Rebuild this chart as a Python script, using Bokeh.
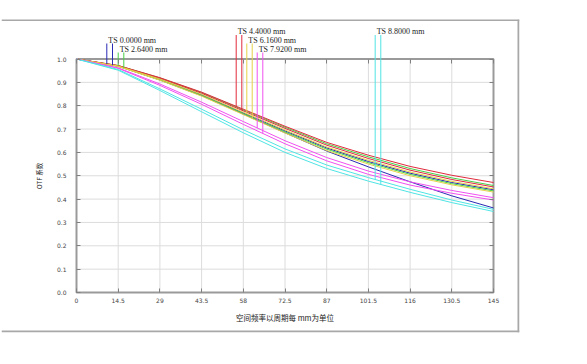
import numpy as np
from bokeh.plotting import figure
from bokeh.models import FixedTicker, LinearAxis, Span, Range1d
from bokeh.core.properties import value
from bokeh.embed import file_html
from bokeh.resources import INLINE

# ---------------- data ----------------
freq = [0, 14.5, 29, 43.5, 58, 72.5, 87, 101.5, 116, 130.5, 145]
x_ticks = [0, 14.5, 29, 43.5, 58, 72.5, 87, 101.5, 116, 130.5, 145]
x_tick_labels = ["0", "14.5", "29", "43.5", "58", "72.5", "87", "101.5", "116", "130.5", "145"]
y_ticks = [0.0, 0.1, 0.2, 0.3, 0.4, 0.5, 0.6, 0.7, 0.8, 0.9, 1.0]
y_tick_labels = ["0.0", "0.1", "0.2", "0.3", "0.4", "0.5", "0.6", "0.7", "0.8", "0.9", "1.0"]

field_names = ["TS 0.0000 mm", "TS 2.6400 mm", "TS 4.4000 mm", "TS 6.1600 mm", "TS 7.9200 mm", "TS 8.8000 mm"]
field_colors = ["#2a2ab4", "#48d048", "#e02a3c", "#e6d24a", "#f050f0", "#50e4e4"]

blue_t    = [1, 0.970, 0.913, 0.847, 0.769, 0.692, 0.619, 0.561, 0.511, 0.471, 0.440]
blue_s    = [1, 0.969, 0.910, 0.843, 0.764, 0.684, 0.606, 0.538, 0.474, 0.414, 0.362]
green_t   = [1, 0.972, 0.919, 0.856, 0.782, 0.708, 0.637, 0.581, 0.531, 0.491, 0.458]
green_s   = [1, 0.969, 0.911, 0.844, 0.766, 0.688, 0.614, 0.556, 0.506, 0.466, 0.435]
red_t     = [1, 0.972, 0.920, 0.858, 0.785, 0.712, 0.643, 0.588, 0.540, 0.502, 0.471]
red_s     = [1, 0.971, 0.917, 0.853, 0.778, 0.703, 0.631, 0.574, 0.524, 0.484, 0.452]
yellow_t  = [1, 0.970, 0.914, 0.849, 0.772, 0.696, 0.623, 0.566, 0.516, 0.476, 0.444]
yellow_s  = [1, 0.968, 0.909, 0.841, 0.762, 0.683, 0.608, 0.550, 0.500, 0.461, 0.430]
magenta_t = [1, 0.962, 0.893, 0.815, 0.732, 0.650, 0.578, 0.520, 0.474, 0.437, 0.406]
magenta_s = [1, 0.960, 0.887, 0.806, 0.720, 0.637, 0.564, 0.506, 0.460, 0.425, 0.396]
cyan_t    = [1, 0.955, 0.872, 0.785, 0.697, 0.615, 0.546, 0.492, 0.442, 0.396, 0.356]
cyan_s    = [1, 0.952, 0.865, 0.774, 0.684, 0.600, 0.531, 0.477, 0.429, 0.385, 0.347]

curves_t = [blue_t, green_t, red_t, yellow_t, magenta_t, cyan_t]
curves_s = [blue_s, green_s, red_s, yellow_s, magenta_s, cyan_s]

# legend marker frequencies (T line; S line sits just right of it) and text rows
legend_t_x = [10.54, 14.50, 55.53, 59.22, 62.83, 103.86]
legend_s_x = [12.52, 16.45, 57.48, 61.10, 64.78, 105.81]
legend_row = [1, 2, 0, 1, 2, 0]

# ---------------- layout geometry (page pixels) ----------------
ORG = 1.0                      # page position of the canvas origin
PX0, PX145 = 77.0, 494.0       # x=0 and x=145
PY0, PY1 = 293.0, 59.5         # y=0 and y=1
FL, FR, FT, FB = 2.0, 520.0, 20.0, 333.0   # frame edges on the page
W, H = 580, 350

kx = (PX145 - PX0) / 145.0
ky = (PY0 - PY1) / 1.0
x_start = (FL - PX0) / kx
x_end = 145 + (FR - PX145) / kx
y_end = (PY0 - FT) / ky
y_start = -(FB - PY0) / ky

def px2x(px):
    return (px - PX0) / kx

def py2v(py):
    return (PY0 - py) / ky

p = figure(width=W, height=H, output_backend="svg", toolbar_location=None, title=None,
           x_range=Range1d(x_start, x_end), y_range=Range1d(y_start, y_end),
           min_border_left=int(FL - ORG), min_border_right=int(ORG + W - FR),
           min_border_top=int(FT - ORG), min_border_bottom=int(ORG + H - FB))
p.outline_line_color = None
p.background_fill_color = "white"
p.border_fill_color = "white"
p.xgrid.visible = False
p.ygrid.visible = False

tick_font = "DejaVu Sans"
cjk = "Noto Sans CJK SC"

# bottom axis
xa = p.xaxis[0]
xa.fixed_location = 0
xa.bounds = (0, 145)
xa.ticker = FixedTicker(ticks=x_ticks)
xa.major_label_overrides = {t: l for t, l in zip(x_ticks, x_tick_labels)}
xa.major_tick_in = 4
xa.major_tick_out = 0
xa.minor_tick_line_color = None
xa.major_tick_line_color = "#808080"
xa.axis_line_color = None
xa.major_label_text_font = tick_font
xa.major_label_text_font_size = "6px"
xa.major_label_text_color = "#444444"
xa.major_label_standoff = 5
xa.axis_label = "空间频率以周期每 mm为单位"
xa.axis_label_text_font = cjk
xa.axis_label_text_font_size = "7.5px"
xa.axis_label_text_font_style = "normal"
xa.axis_label_text_color = "#222222"
xa.axis_label_standoff = 6

# left axis
ya = p.yaxis[0]
ya.fixed_location = 0
ya.bounds = (0, 1)
ya.ticker = FixedTicker(ticks=y_ticks)
ya.major_label_overrides = {t: l for t, l in zip(y_ticks, y_tick_labels)}
ya.major_tick_in = 4
ya.major_tick_out = 0
ya.minor_tick_line_color = None
ya.major_tick_line_color = "#808080"
ya.axis_line_color = None
ya.major_label_text_font = tick_font
ya.major_label_text_font_size = "6px"
ya.major_label_text_color = "#444444"
ya.major_label_standoff = 10
ya.axis_label = "OTF 系数"
ya.axis_label_text_font = cjk
ya.axis_label_text_font_size = "6.5px"
ya.axis_label_text_font_style = "normal"
ya.axis_label_text_color = "#222222"
ya.axis_label_standoff = 10

# right and top tick-only axes
ra = LinearAxis(fixed_location=145, bounds=(0, 1), ticker=FixedTicker(ticks=y_ticks),
                major_tick_in=4, major_tick_out=0, minor_tick_line_color=None,
                major_tick_line_color="#808080", axis_line_color=None,
                major_label_text_alpha=0)
p.add_layout(ra, "right")
ta = LinearAxis(fixed_location=1, bounds=(0, 145), ticker=FixedTicker(ticks=x_ticks),
                major_tick_in=4, major_tick_out=0, minor_tick_line_color=None,
                major_tick_line_color="#808080", axis_line_color=None,
                major_label_text_alpha=0)
p.add_layout(ta, "above")

# grid lines
gx = [t for t in x_ticks if 0 < t < 145]
gy = [t for t in y_ticks if 0 < t < 1]
p.segment(x0=gx, y0=[0] * len(gx), x1=gx, y1=[1] * len(gx), line_color="#dcdcdc", line_width=1)
p.segment(x0=[0] * len(gy), y0=gy, x1=[145] * len(gy), y1=gy, line_color="#dcdcdc", line_width=1)

# inner plot frame
p.quad(left=[0], right=[145], bottom=[0], top=[1], fill_color=None, line_color="#9a9a9a", line_width=2)

# outer frame
p.add_layout(Span(location=py2v(FT + 0.5), dimension="width", line_color="#a8a8a8", line_width=2))
p.add_layout(Span(location=py2v(FB - 1.0), dimension="width", line_color="#a8a8a8", line_width=2))
p.add_layout(Span(location=px2x(FR - 1.0), dimension="height", line_color="#a8a8a8", line_width=2))

# curves
for col, ct, cs in zip(field_colors, curves_t, curves_s):
    p.line(freq, ct, line_color=col, line_width=1)
    p.line(freq, cs, line_color=col, line_width=1)

# legend markers
row_base_py = [32.0, 40.5, 49.5]
for name, col, tx, sx, row, ct, cs in zip(field_names, field_colors, legend_t_x, legend_s_x,
                                           legend_row, curves_t, curves_s):
    base = py2v(row_base_py[row])
    top = py2v(row_base_py[row] + 3.5)
    yt = float(np.interp(tx, freq, ct))
    ys = float(np.interp(sx, freq, cs))
    p.segment(x0=[tx, sx], y0=[top, top], x1=[tx, sx], y1=[yt, ys], line_color=col, line_width=1)
    p.text(x=[tx], y=[base], text=[name], x_offset=1.5, text_font=value("Liberation Serif"),
           text_font_size="8px", text_baseline="alphabetic", text_align="left", text_color="#222222")

open("out.html", "w").write(file_html(p, INLINE))
